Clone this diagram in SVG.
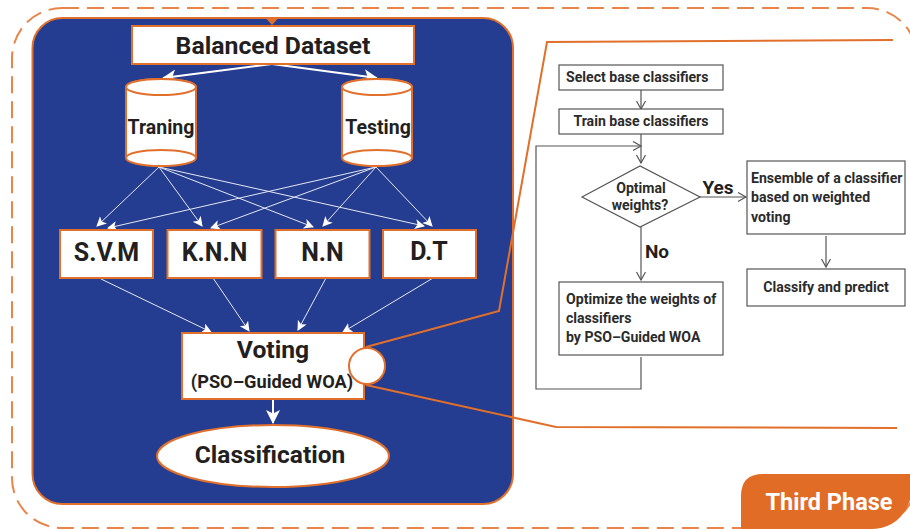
<svg xmlns="http://www.w3.org/2000/svg" width="910" height="529" viewBox="0 0 910 529">
<style>
text{font-family:Roboto,"Liberation Sans",sans-serif;font-weight:700;fill:#231f20;text-anchor:middle}
.o{fill:#fff;stroke:#e0702b;stroke-width:2}
.w{fill:none;stroke:#e4e8f4;stroke-width:1}
.ww{fill:none;stroke:#fff;stroke-width:2}
.g{fill:#fff;stroke:#555;stroke-width:1.2}
.c{fill:none;stroke:#555;stroke-width:1.2}
.l{fill:none;stroke:#e0702b;stroke-width:2}
.t16{font-size:14.1px;fill:#2b2b2b}
.s{text-anchor:start}
</style>
<defs>
<marker id="wa" markerUnits="userSpaceOnUse" markerWidth="12" markerHeight="12" refX="9" refY="5" orient="auto"><path d="M0 0L10 5L0 10L2.5 5Z" fill="#fff"/></marker>
<marker id="wb" markerUnits="userSpaceOnUse" markerWidth="16" markerHeight="16" refX="13" refY="7" orient="auto"><path d="M0 0L14 7L0 14L3.5 7Z" fill="#fff"/></marker>
<marker id="ga" markerUnits="userSpaceOnUse" markerWidth="12" markerHeight="12" refX="9" refY="5" orient="auto"><path d="M1 0.5L9 5L1 9.5" fill="none" stroke="#555" stroke-width="1.2"/></marker>
</defs>
<rect x="12" y="8" width="905" height="520" rx="50" fill="none" stroke="#e9854a" stroke-width="2" stroke-dasharray="17 8"/>
<rect id="panel" x="32.500" y="18" width="480.500" height="486" rx="30" fill="#253d91" stroke="#e0702b" stroke-width="2"/>
<path d="M266.500 19H277.500L272 25Z" fill="#e0702b"/>
<g id="connectors">
<path class="ww" marker-end="url(#wb)" d="M272 64L163 78"/>
<path class="ww" marker-end="url(#wb)" d="M272 64L377 78"/>
<path class="w" marker-end="url(#wa)" d="M159 167L97 226"/>
<path class="w" marker-end="url(#wa)" d="M159 167L202 226"/>
<path class="w" marker-end="url(#wa)" d="M159 167L313 227"/>
<path class="w" marker-end="url(#wa)" d="M159 167L424 226"/>
<path class="w" marker-end="url(#wa)" d="M376 167L108 228"/>
<path class="w" marker-end="url(#wa)" d="M376 167L211 228"/>
<path class="w" marker-end="url(#wa)" d="M376 167L323 226"/>
<path class="w" marker-end="url(#wa)" d="M376 167L432 226"/>
<path class="w" marker-end="url(#wa)" d="M101 279L211 332"/>
<path class="w" marker-end="url(#wa)" d="M213 278L249 331"/>
<path class="w" marker-end="url(#wa)" d="M326 278L298 330"/>
<path class="w" marker-end="url(#wa)" d="M433 278L343 332"/>
<path class="ww" marker-end="url(#wb)" d="M273 399V423"/>
<path class="l" d="M366 347L499 311L547 42L893 40"/>
<path class="l" d="M366 385L556 427L897 428"/>
<path class="c" marker-end="url(#ga)" d="M641 90V109"/>
<path class="c" marker-end="url(#ga)" d="M641 134V163"/>
<path class="c" marker-end="url(#ga)" d="M641 357V389H536V146H641"/>
<path class="c" marker-end="url(#ga)" d="M700 197H746"/>
<path class="c" marker-end="url(#ga)" d="M641 227V280"/>
<path class="c" marker-end="url(#ga)" d="M826 236V267"/>
</g>
<g id="balanced"><rect class="o" x="132" y="26" width="282" height="38"/><text x="273" y="54" font-size="24.800">Balanced Dataset</text></g>
<g id="training"><path class="o" d="M126 87V158A35 8 0 0 0 196 158V87A35 8 0 0 0 126 87Z"/><ellipse class="o" cx="161" cy="87" rx="35" ry="8"/><path class="l" d="M126 158A35 8 0 0 1 196 158"/><text x="161" y="134" font-size="19.500">Traning</text></g>
<g id="testing"><path class="o" d="M342 87V158A35 8 0 0 0 412 158V87A35 8 0 0 0 342 87Z"/><ellipse class="o" cx="377" cy="87" rx="35" ry="8"/><path class="l" d="M342 158A35 8 0 0 1 412 158"/><text x="378" y="134" font-size="19.500">Testing</text></g>
<g id="svm"><rect class="o" x="60" y="230" width="93" height="48"/><text x="106.500" y="261" font-size="25">S.V.M</text></g>
<g id="knn"><rect class="o" x="167.500" y="230" width="94" height="48"/><text x="214.500" y="261" font-size="25">K.N.N</text></g>
<g id="nn"><rect class="o" x="275.500" y="230" width="94" height="48"/><text x="322.500" y="261" font-size="25">N.N</text></g>
<g id="dt"><rect class="o" x="383" y="230" width="93" height="48"/><text x="429" y="260" font-size="25">D.T</text></g>
<g id="voting"><rect class="o" x="182" y="333" width="182" height="66"/><text x="273" y="358" font-size="24.700">Voting</text><text x="272" y="388" font-size="18.200">(PSO–Guided WOA)</text><circle class="o" cx="367" cy="366" r="18"/></g>
<g id="classification"><ellipse class="o" cx="273" cy="456" rx="116" ry="31"/><text x="270" y="463" font-size="24.500">Classification</text></g>
<g id="select"><rect class="g" x="559" y="65" width="164" height="25"/><text class="s t16" x="566" y="82">Select base classifiers</text></g>
<g id="train"><rect class="g" x="559" y="109" width="164" height="25"/><text class="t16" x="641" y="126">Train base classifiers</text></g>
<g id="decision"><path class="g" d="M582 197L640 166L700 197L640 227Z"/><text class="t16" x="641" y="193">Optimal</text><text class="t16" x="640" y="210">weights?</text></g>
<g id="ensemble"><rect class="g" x="747" y="161" width="158" height="73"/><text class="s t16" x="751" y="183">Ensemble of a classifier</text><text class="s t16" x="751" y="202">based on weighted</text><text class="s t16" x="751" y="222">voting</text></g>
<g id="classify"><rect class="g" x="747" y="269" width="158" height="37"/><text class="t16" x="826" y="292">Classify and predict</text></g>
<g id="optimize"><rect class="g" x="559" y="282" width="164" height="73"/><text class="s t16" x="566" y="304">Optimize the weights of</text><text class="s t16" x="566" y="323">classifiers</text><text class="s t16" x="566" y="342">by PSO–Guided WOA</text></g>
<text x="718" y="194" font-size="19">Yes</text>
<text x="657" y="258" font-size="19">No</text>
<g id="phase"><path d="M741 529V496Q741 474 763 474H910V500Q900 529 870 529Z" fill="#e06c26"/><text x="829" y="510" font-size="23.500" style="fill:#fff">Third Phase</text></g>
</svg>
